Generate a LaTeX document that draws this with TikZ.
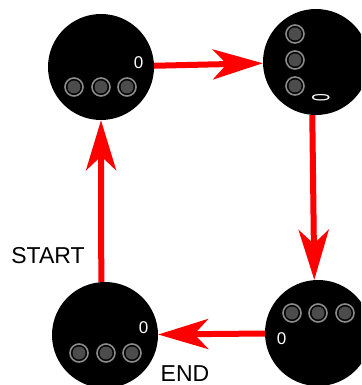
\documentclass[tikz,border=0pt]{standalone}
\usepackage{fontspec}
\setmainfont{Liberation Sans}
\usetikzlibrary{arrows.meta}
\begin{document}
\begin{tikzpicture}[x=1pt,y=-1pt,
  disc/.style={circle,fill=black,draw=none,inner sep=0pt,minimum size=106pt},
  flow/.style={draw=red,line width=6pt,-{Stealth[length=50pt,width=30pt,inset=14pt]}},
  count/.style={text=white,font=\fontsize{17}{17}\selectfont,inner sep=0pt},
  caption/.style={font=\fontsize{23}{23}\selectfont,inner sep=0pt},
  slot/.pic={
    \fill[black!70] (0,0) circle (6.5pt);
    \draw[black!45,line width=1.6pt] (0,0) circle (9pt);
  }]
\useasboundingbox (0,0) rectangle (361,385);
\clip (0,0) rectangle (361,385);

% four states
\node[disc] (tl) at (101,67) {};
\node[disc] (tr) at (316,62) {};
\node[disc] (bl) at (105,335) {};
\node[disc] (br) at (318,333) {};

% slots in each state
\foreach \x in {74,101,127} \pic at (\x,87) {slot};
\foreach \y in {34,60,86} \pic at (295,\y) {slot};
\foreach \x in {79,106,132} \pic at (\x,353) {slot};
\foreach \x in {292,318,345} \pic at (\x,313) {slot};

% counters
\node[count] (ctl) at (138.5,62.5) {0};
\node[count,rotate=90] (ctr) at (321,97.5) {\scalebox{0.8}[1.45]{0}};
\node[count] (cbl) at (143.5,328) {0};
\node[count] (cbr) at (281.5,339) {0};

% transitions
\draw[flow] (tl) -- (tr);
\draw[flow] (tr.266) -- (br.94);
\draw[flow] (br) -- (bl);
\draw[flow] (bl.94) -- (tl.-90);

% labels
\node[caption] (start) at (48,256) {START};
\node[caption] (end) at (185,373.5) {END};
\end{tikzpicture}
\end{document}
